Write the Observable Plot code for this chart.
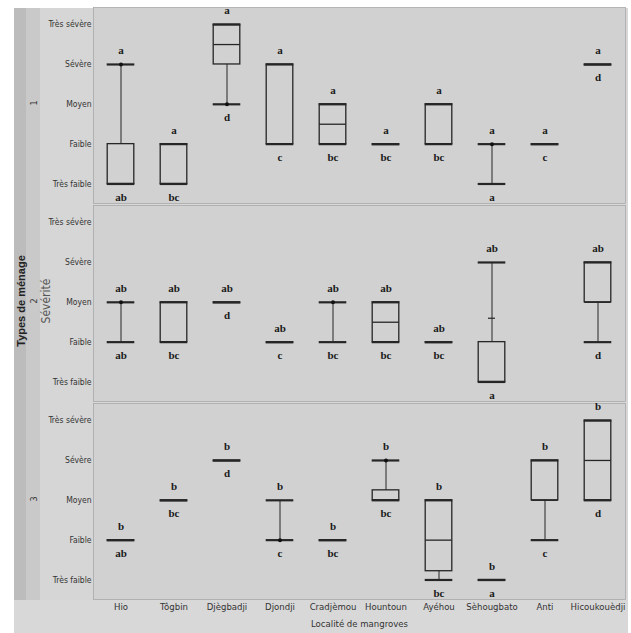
<!DOCTYPE html>
<html>
<head>
<meta charset="utf-8">
<script src="https://cdn.jsdelivr.net/npm/d3@7"></script>
<script src="https://cdn.jsdelivr.net/npm/@observablehq/plot@0.6"></script>
<style>
  html, body { margin: 0; padding: 0; background: #fff; }
  #wrap { position: relative; width: 631px; height: 633px; overflow: hidden; }
  .bg { position: absolute; }
  #chart { position: absolute; left: 0; top: 0; }
  .vlab { position: absolute; transform: translate(-50%, -50%) rotate(-90deg); white-space: nowrap; }
</style>
</head>
<body>
<div id="wrap">
  <div class="bg" style="left:14px;top:8px;width:614px;height:625px;background:#d8d8d8"></div>
  <div class="bg" style="left:14px;top:8px;width:12px;height:592px;background:#bcbcbc"></div>
  <div class="bg" style="left:26px;top:8px;width:14px;height:592px;background:#c9c9c9"></div>
  <div class="bg" style="left:40px;top:8px;width:53px;height:592px;background:#d6d6d6"></div>
  <div class="vlab" style="left:21px;top:301px;font:bold 11px 'Liberation Sans', Arial, sans-serif;color:#222">Types de ménage</div>
  <div class="vlab" style="left:46px;top:301px;font:12px 'Liberation Sans Narrow','DejaVu Sans Condensed',sans-serif;color:#555">Sévérité</div>
  <div id="chart"></div>
</div>
<script>
// Categories
const localites = ["Hio", "Tôgbin", "Djègbadji", "Djondji", "Cradjèmou", "Hountoun", "Ayéhou", "Sèhougbato", "Anti", "Hicoukouèdji"];
const niveaux = ["Très faible", "Faible", "Moyen", "Sévère", "Très sévère"];
const types = ["1", "2", "3"];

// Box statistics per type (1 = Très faible ... 5 = Très sévère); null = absent
const min1 = [1, 1, 3,   2, 2,   2, 2, 1, 2, 4];
const q1_1 = [1, 1, 4,   2, 2,   2, 2, 2, 2, 4];
const med1 = [1, 1, 4.5, 2, 2.5, 2, 3, 2, 2, 4];
const q3_1 = [2, 2, 5,   4, 3,   2, 3, 2, 2, 4];
const max1 = [4, 2, 5,   4, 3,   2, 3, 2, 2, 4];

const min2 = [2, 2, 3, 2, 2, 2,   2, 1, null, 2];
const q1_2 = [3, 2, 3, 2, 3, 2,   2, 1, null, 3];
const med2 = [3, 2, 3, 2, 3, 2.5, 2, 1, null, 3];
const q3_2 = [3, 3, 3, 2, 3, 3,   2, 2, null, 4];
const max2 = [3, 3, 3, 2, 3, 3,   2, 4, null, 4];

const min3 = [2, 3, 4, 2, 2, 3,    1,    1, 2, 3];
const q1_3 = [2, 3, 4, 2, 2, 3,    1.22, 1, 3, 3];
const med3 = [2, 3, 4, 2, 2, 3,    2,    1, 3, 4];
const q3_3 = [2, 3, 4, 2, 2, 3.25, 3,    1, 4, 5];
const max3 = [2, 3, 4, 3, 2, 4,    3,    1, 4, 5];

// Letters (significance groups)
const lettreType = ["a", "ab", "b"];
const lettreLocalite = ["ab", "bc", "d", "c", "bc", "bc", "bc", "a", "c", "d"];

// Points drawn on whiskers
const pointsType = ["1", "1", "1", "2", "2", "3", "3"];
const pointsLoc = ["Hio", "Djègbadji", "Sèhougbato", "Hio", "Cradjèmou", "Djondji", "Hountoun"];
const pointsVal = [4, 3, 2, 3, 3, 2, 4];

// Small mark on a whisker
const marqueType = ["2"];
const marqueLoc = ["Sèhougbato"];
const marqueVal = [2.6];

const stats = [
  [min1, q1_1, med1, q3_1, max1],
  [min2, q1_2, med2, q3_2, max2],
  [min3, q1_3, med3, q3_3, max3]
];
const rows = [];
types.forEach((t, i) => {
  const [mn, a, m, b, mx] = stats[i];
  localites.forEach((loc, j) => {
    if (mn[j] == null) return;
    rows.push({type: t, loc, min: mn[j], q1: a[j], med: m[j], q3: b[j], max: mx[j],
               top: lettreType[i], bottom: lettreLocalite[j]});
  });
});
const boxes = rows.filter(d => d.q3 > d.q1);
const pts = pointsType.map((t, i) => ({type: t, loc: pointsLoc[i], v: pointsVal[i]}));
const marques = marqueType.map((t, i) => ({type: t, loc: marqueLoc[i], v: marqueVal[i]}));

const ink = "#262626";
const inset = 13.2;
const letterFont = {fontFamily: "'Liberation Serif', 'DejaVu Serif', serif", fontWeight: "bold", fontSize: 11, fill: "#1a1a1a"};

const chart = Plot.plot({
  width: 631,
  height: 633,
  marginLeft: 93,
  marginRight: 6,
  marginTop: 6,
  marginBottom: 33,
  style: {background: "transparent", fontFamily: "'Liberation Sans Narrow', 'DejaVu Sans Condensed', sans-serif", fontSize: "9.5px", color: "#333"},
  x: {domain: localites, padding: 0},
  y: {domain: [0.51, 5.43]},
  fy: {domain: types, padding: 0.012, axis: null, label: null},
  marks: [
    Plot.frame({fill: "#d1d1d1", stroke: "#a9a9a9", strokeWidth: 0.8}),
    Plot.axisY({ticks: [1, 2, 3, 4, 5], tickFormat: d => niveaux[d - 1], tickSize: 0, tickPadding: 2, label: null, fontSize: 8.5}),
    Plot.axisX({tickSize: 0, tickPadding: 4, label: "Localité de mangroves", labelAnchor: "center", labelOffset: 27, labelArrow: "none"}),
    Plot.ruleX(rows, {x: "loc", y1: "min", y2: "q1", fy: "type", stroke: ink, strokeWidth: 1}),
    Plot.ruleX(rows, {x: "loc", y1: "q3", y2: "max", fy: "type", stroke: ink, strokeWidth: 1}),
    Plot.barY(boxes, {x: "loc", y1: "q1", y2: "q3", fy: "type", fill: "none", stroke: ink, strokeWidth: 1.3, insetLeft: inset, insetRight: inset}),
    Plot.tickY(boxes, {x: "loc", y: "med", fy: "type", stroke: ink, strokeWidth: 1.3, insetLeft: inset, insetRight: inset}),
    Plot.tickY(rows, {x: "loc", y: "min", fy: "type", stroke: ink, strokeWidth: 2.2, insetLeft: inset - 0.5, insetRight: inset - 0.5}),
    Plot.tickY(rows, {x: "loc", y: "max", fy: "type", stroke: ink, strokeWidth: 2.2, insetLeft: inset - 0.5, insetRight: inset - 0.5}),
    Plot.tickY(marques, {x: "loc", y: "v", fy: "type", stroke: ink, strokeWidth: 1.2, insetLeft: 23, insetRight: 23}),
    Plot.dot(pts, {x: "loc", y: "v", fy: "type", r: 2, fill: "#111", stroke: "none"}),
    Plot.text(rows, {x: "loc", y: "max", fy: "type", text: "top", dy: -14, ...letterFont}),
    Plot.text(rows, {x: "loc", y: "min", fy: "type", text: "bottom", dy: 13, ...letterFont}),
    Plot.text(types, {fy: d => d, text: d => d, frameAnchor: "left", dx: -59, rotate: -90, fontSize: 9, fill: "#333"})
  ]
});
document.getElementById("chart").appendChild(chart);
</script>
</body>
</html>
